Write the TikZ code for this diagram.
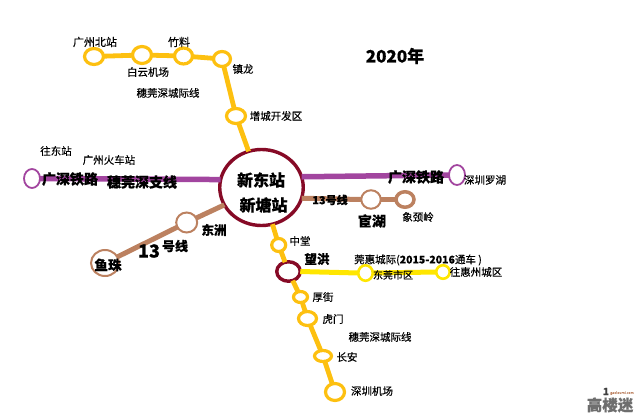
\documentclass[tikz,border=0pt]{standalone}
\usepackage{fontspec}
\setmainfont[FakeBold=0.35]{Noto Sans CJK SC}
\usetikzlibrary{shapes.geometric}
\definecolor{gold}{HTML}{FDC010}
\definecolor{purp}{HTML}{A2459F}
\definecolor{brn}{HTML}{BC8160}
\definecolor{maroon}{HTML}{860A26}
\definecolor{yel}{HTML}{FFE600}
\definecolor{wm}{HTML}{6E6E6E}
\tikzset{
 stn/.style={ellipse,draw,fill=white,inner sep=0pt,outer sep=0pt},
 gst/.style={stn,draw=gold,line width=3.2pt},
 pst/.style={stn,draw=purp,line width=1.8pt},
 bst/.style={stn,draw=brn,line width=2pt},
 yst/.style={stn,draw=yel,line width=2.6pt},
 mst/.style={stn,draw=maroon,line width=3.4pt},
 gl/.style={gold,line width=4.8pt},
 pl/.style={purp,line width=5.5pt},
 bl/.style={brn,line width=5pt},
 yl/.style={yel,line width=5pt},
 lab/.style={inner sep=0pt,font=\fontsize{#1}{#1}\selectfont,text=black},
 lab/.default=10.5,
 blab/.style={inner sep=0pt,font=\fontsize{#1}{#1}\selectfont\bfseries,text=black},
 blab/.default=14,
}
\newcommand{\stnat}[6]{\node[#1,minimum width=#5pt,minimum height=#6pt] (#2) at (#3,#4) {};}
\begin{document}
\begin{tikzpicture}[x=1pt,y=-1pt]
\useasboundingbox (0,0) rectangle (640,415);
% stations
\stnat{gst}{gzb}{94}{56.5}{19}{16}
\stnat{gst}{byjc}{142}{55}{19}{17}
\stnat{gst}{zl}{183.5}{56}{18}{16}
\stnat{gst}{zhl}{222}{59}{17}{15}
\stnat{gst}{zc}{236}{116}{19}{15}
\stnat{mst}{main}{261.5}{187.5}{83.5}{76}
\stnat{pst}{pa}{32}{178.5}{16}{19}
\stnat{pst}{pb}{457}{175}{16}{20}
\stnat{bst}{gh}{371}{199.5}{19.5}{18.5}
\stnat{bst,line width=3.5pt}{xjl}{405}{199.5}{18}{15.5}
\stnat{bst}{dz}{186.7}{222.5}{21}{20}
\stnat{bst}{yz}{105}{263}{28}{26}
\stnat{gst}{zt}{278.7}{245}{14}{13}
\stnat{mst}{wh}{288.5}{271.5}{23.5}{19.5}
\stnat{yst}{dg}{365.5}{273}{14.5}{15.5}
\stnat{yst}{wq}{443}{272}{13.5}{13.5}
\stnat{gst}{hj}{300.5}{297}{14}{11}
\stnat{gst}{hm}{307.5}{318.5}{18}{14}
\stnat{gst}{ca}{323}{356}{17}{11}
\stnat{gst}{jc}{335}{392}{19}{17}
% connectors
\draw[gl] (gzb) -- (byjc);
\draw[gl] (byjc) -- (zl);
\draw[gl] (zl) -- (zhl);
\draw[gl] (zhl) -- (zc);
\draw[gl] (zc) -- (main);
\draw[gl] (main) -- (zt);
\draw[gl] (zt) -- (wh);
\draw[gl] (wh) -- (hj);
\draw[gl] (hj) -- (hm);
\draw[gl] (hm) -- (ca);
\draw[gl] (ca) -- (jc);
\draw[pl] (pa.east) -- (main.169);
\draw[pl] (main.15) -- (pb.west);
\draw[bl] (main.345) -- (gh.west);
\draw[bl] (gh.east) -- (xjl.west);
\draw[bl] (main) -- (dz);
\draw[bl] (dz) -- (yz);
\draw[yl] (wh.east) -- (dg.west);
\draw[yl] (dg.east) -- (wq.west);
% labels
\node[blab=17] (t2020) at (395,56) {2020年};
\node[lab=11] (l1) at (95,42) {广州北站};
\node[lab=10.5] (l2) at (148,72) {白云机场};
\node[lab=11] (l3) at (179,42) {竹料};
\node[lab] (l4) at (243,69) {镇龙};
\node[lab] (l5) at (168,93) {穗莞深城际线};
\node[lab] (l6) at (276,116) {增城开发区};
\node[lab] (l7) at (56,151) {往东站};
\node[lab] (l8) at (109,160) {广州火车站};
\node[blab] (l9) at (70,179) {广深铁路};
\node[blab] (l10) at (142,182) {穗莞深支线};
\node[blab=16] (l11) at (261,180) {新东站};
\node[blab=16] (l12) at (263.5,205) {新塘站};
\node[blab] (l13) at (416,177) {广深铁路};
\node[lab] (l14) at (485,180) {深圳罗湖};
\node[blab=11] (l15) at (330,200) {13号线};
\node[blab] (l16) at (372,221) {宦湖};
\node[lab] (l17) at (418,217) {象颈岭};
\node[lab] (l18) at (300,241) {中堂};
\node[blab=12.5] (l19) at (317,259) {望洪};
\node[lab] (l20) at (418,260) {莞惠城际(\textbf{2015-2016}通车 )};
\node[lab=10] (l21) at (393,275) {东莞市区};
\node[lab] (l22) at (476,272) {往惠州城区};
\node[lab] (l23) at (323,297) {厚街};
\node[lab] (l24) at (333,319) {虎门};
\node[lab] (l25) at (380,337) {穗莞深城际线};
\node[lab] (l26) at (347,357) {长安};
\node[lab] (l27) at (372,391) {深圳机场};
\node[blab=12.5] (l28) at (214,230) {东洲};
\node[blab=18] (l29) at (149,251) {13};
\node[blab=13] (l30) at (175,246) {号线};
\node[blab=13.5] (l31) at (108,265) {鱼珠};
% watermark
\node[blab=15.5,text=wm] (w1) at (610,405) {高楼迷};
\node[blab=10,text=black!75] (w2) at (606,391.5) {1};
\node[lab=3.5,text=brn] (w3) at (622,393) {gaoloumi.com};
\end{tikzpicture}
\end{document}
